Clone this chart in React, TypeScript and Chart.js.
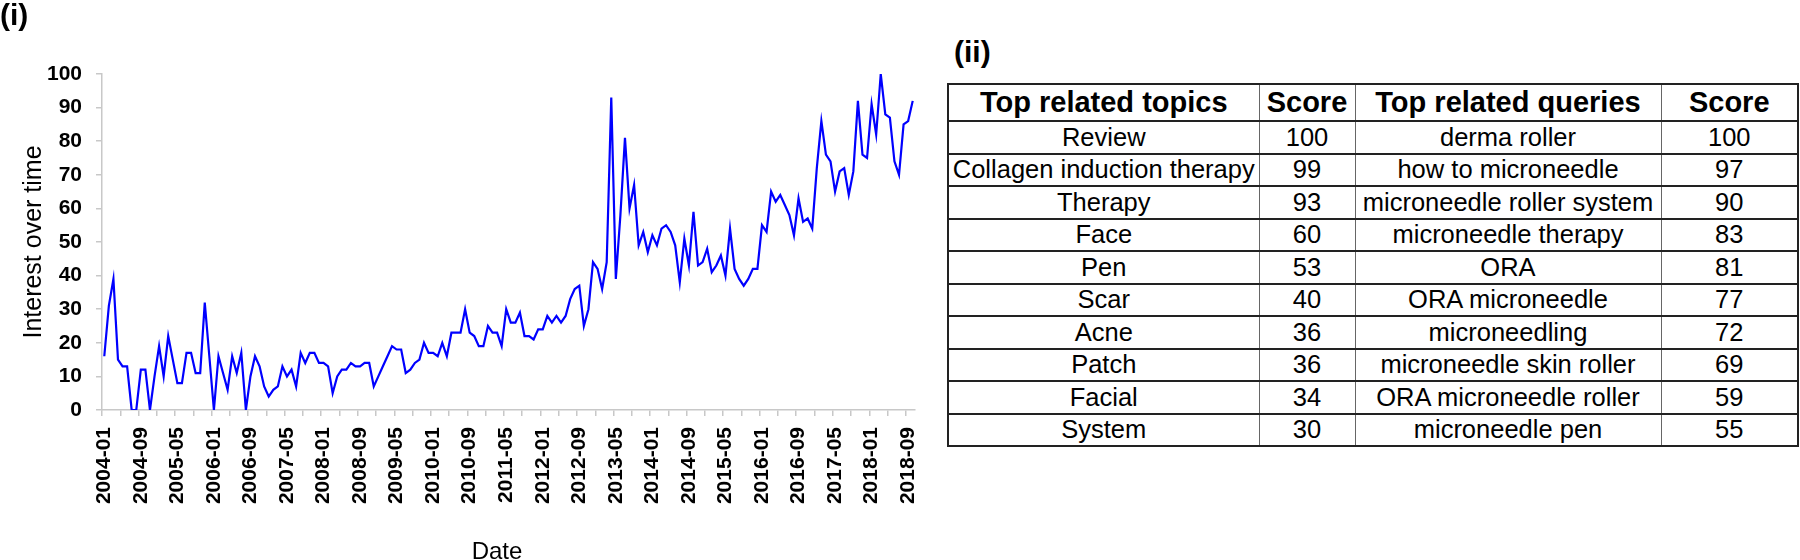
import React, { useEffect, useRef } from "react";
import { Chart, registerables } from "chart.js";

Chart.register(...registerables);

const FONT = "'Liberation Sans', Arial, Helvetica, sans-serif";

// Monthly categories 2004-01 .. 2018-10
const firstYear = 2004;
const monthCount = 178;
const monthLabels: string[] = [];
for (let i = 0; i < monthCount; i++) {
  const y = firstYear + Math.floor(i / 12);
  const m = (i % 12) + 1;
  monthLabels.push(`${y}-${m < 10 ? "0" + m : m}`);
}

// Interest over time
const interest: number[] = [
  16, 31, 39, 15, 13, 13, 0, 0, 12, 12, 0, 10, 19, 10, 22, 15, 8, 8, 17, 17,
  11, 11, 32, 16, 0, 16, 11, 6, 16, 11, 17, 0, 10, 16, 13, 7, 4, 6, 7, 13,
  10, 12, 7, 17, 14, 17, 17, 14, 14, 13, 5, 10, 12, 12, 14, 13, 13, 14, 14, 7,
  10, 13, 16, 19, 18, 18, 11, 12, 14, 15, 20, 17, 17, 16, 20, 16, 23, 23, 23, 30,
  23, 22, 19, 19, 25, 23, 23, 19, 30, 26, 26, 29, 22, 22, 21, 24, 24, 28, 26, 28,
  26, 28, 33, 36, 37, 25, 30, 44, 42, 36, 44, 93, 39, 58, 81, 60, 67, 49, 53, 47,
  52, 49, 54, 55, 53, 49, 38, 51, 43, 59, 43, 44, 48, 41, 43, 46, 40, 54, 42, 39,
  37, 39, 42, 42, 55, 53, 65, 62, 64, 61, 58, 52, 63, 56, 57, 54, 72, 86, 76, 74,
  65, 71, 72, 64, 71, 92, 76, 75, 91, 82, 100, 88, 87, 74, 70, 85, 86, 92,
];

const xTitle = "Date";
const yTitle = "Interest over time";

// Table (ii)
const tableHeaders: string[] = ["Top related topics", "Score", "Top related queries", "Score"];
const topics: string[] = ["Review", "Collagen induction therapy", "Therapy", "Face", "Pen", "Scar", "Acne", "Patch", "Facial", "System"];
const topicScores: number[] = [100, 99, 93, 60, 53, 40, 36, 36, 34, 30];
const queries: string[] = [
  "derma roller",
  "how to microneedle",
  "microneedle roller system",
  "microneedle therapy",
  "ORA",
  "ORA microneedle",
  "microneedling",
  "microneedle skin roller",
  "ORA microneedle roller",
  "microneedle pen",
];
const queryScores: number[] = [100, 97, 90, 83, 81, 77, 72, 69, 59, 55];

const colWidths = [311, 96, 306, 137];

function LineChart() {
  const ref = useRef<HTMLCanvasElement | null>(null);
  useEffect(() => {
    if (!ref.current) return;
    const chart = new Chart(ref.current, {
      type: "line",
      data: {
        labels: monthLabels,
        datasets: [
          {
            data: interest,
            borderColor: "#0000ff",
            borderWidth: 2.2,
            pointRadius: 0,
            tension: 0,
            fill: false,
          },
        ],
      },
      options: {
        animation: false,
        responsive: false,
        maintainAspectRatio: false,
        layout: { padding: { top: 74, right: 15, left: 0, bottom: 0 } },
        plugins: { legend: { display: false }, tooltip: { enabled: false } },
        scales: {
          x: {
            type: "category",
            offset: true,
            grid: {
              offset: true,
              drawOnChartArea: false,
              drawTicks: true,
              tickLength: 6,
              lineWidth: 1.5,
              color: (ctx: any) => (ctx.index % 4 === 0 ? "#c8c8c8" : "rgba(0,0,0,0)"),
            },
            border: { display: true, color: "#c8c8c8", width: 1.5 },
            ticks: {
              autoSkip: false,
              maxRotation: 90,
              minRotation: 90,
              padding: 11,
              color: "#000",
              font: { family: FONT, size: 21, weight: "bold" },
              callback: (_v: any, i: number) => (i % 8 === 0 ? monthLabels[i] : ""),
            },
            title: { display: false },
            afterFit: (s: any) => {
              s.height = 150;
              s.paddingLeft = 0;
              s.paddingRight = 0;
            },
          },
          y: {
            min: 0,
            max: 100,
            ticks: {
              stepSize: 10,
              padding: 14,
              color: "#000",
              font: { family: FONT, size: 21, weight: "bold" },
            },
            grid: { drawOnChartArea: false, tickLength: 6, lineWidth: 1.5, color: "#c8c8c8" },
            border: { display: true, color: "#c8c8c8", width: 1.5 },
            title: {
              display: true,
              text: yTitle,
              color: "#000",
              font: { family: FONT, size: 25, lineHeight: 1.2 },
              padding: { top: 19, bottom: 0 },
            },
            afterFit: (s: any) => {
              s.width = 102;
            },
          },
        },
      } as any,
    });
    return () => chart.destroy();
  }, []);
  return (
    <canvas
      ref={ref}
      width={930}
      height={560}
      style={{ position: "absolute", left: 0, top: 0, width: 930, height: 560, display: "block" }}
    />
  );
}

export default function App() {
  const thick = "2px solid #222";
  const thin = "1px solid #666";
  const cellStyle = (col: number, header: boolean): React.CSSProperties => ({
    padding: 0,
    textAlign: "center",
    verticalAlign: "middle",
    whiteSpace: "nowrap",
    overflow: "hidden",
    fontSize: header ? 29 : 25.5,
    fontWeight: header ? "bold" : "normal",
    lineHeight: "1",
    borderTop: thick,
    borderBottom: thick,
    borderLeft: col === 0 ? thick : thin,
    borderRight: col === 3 ? thick : thin,
  });
  return (
    <div
      style={{
        position: "absolute",
        left: 0,
        top: 0,
        width: 1800,
        height: 560,
        background: "#fff",
        overflow: "hidden",
        fontFamily: FONT,
        color: "#000",
      }}
    >
      <LineChart />
      <div
        style={{
          position: "absolute",
          left: 447,
          top: 537,
          width: 100,
          textAlign: "center",
          fontSize: 24,
          lineHeight: "normal",
        }}
      >
        {xTitle}
      </div>
      <div style={{ position: "absolute", left: 0, top: -2, fontSize: 30, fontWeight: "bold", lineHeight: "normal" }}>(i)</div>
      <div style={{ position: "absolute", left: 954, top: 35, fontSize: 30, fontWeight: "bold", lineHeight: "normal" }}>(ii)</div>
      <table
        style={{
          position: "absolute",
          left: 947,
          top: 83,
          width: colWidths.reduce((a, b) => a + b, 0),
          borderCollapse: "collapse",
          tableLayout: "fixed",
          fontFamily: FONT,
          color: "#000",
        }}
      >
        <colgroup>
          {colWidths.map((w, i) => (
            <col key={i} style={{ width: w }} />
          ))}
        </colgroup>
        <thead>
          <tr style={{ height: 37 }}>
            {tableHeaders.map((h, i) => (
              <th key={i} style={cellStyle(i, true)}>
                {h}
              </th>
            ))}
          </tr>
        </thead>
        <tbody>
          {topics.map((t, r) => (
            <tr key={r} style={{ height: 32.5 }}>
              <td style={cellStyle(0, false)}>{t}</td>
              <td style={cellStyle(1, false)}>{topicScores[r]}</td>
              <td style={cellStyle(2, false)}>{queries[r]}</td>
              <td style={cellStyle(3, false)}>{queryScores[r]}</td>
            </tr>
          ))}
        </tbody>
      </table>
    </div>
  );
}
